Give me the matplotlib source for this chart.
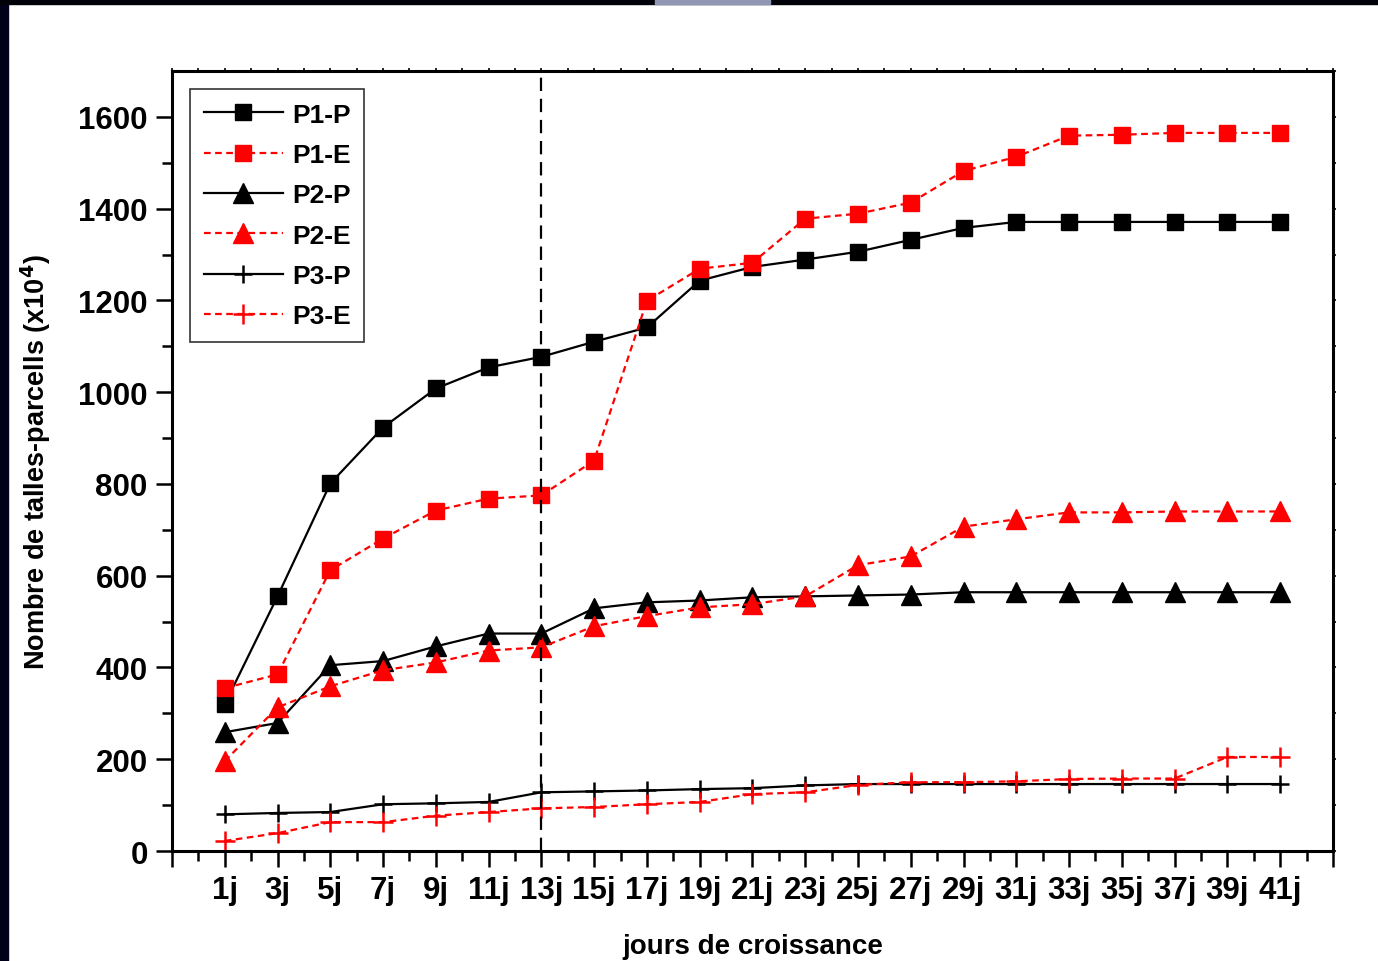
import numpy as np
import matplotlib
matplotlib.use("Agg")
import matplotlib.pyplot as plt
from matplotlib.patches import Rectangle

plt.rcParams['font.family'] = ['Liberation Sans', 'DejaVu Sans']
plt.rcParams['font.weight'] = 'bold'
plt.rcParams['axes.labelweight'] = 'bold'

# growth days (every 2 days)
days = ["1j", "3j", "5j", "7j", "9j", "11j", "13j", "15j", "17j", "19j", "21j",
        "23j", "25j", "27j", "29j", "31j", "33j", "35j", "37j", "39j", "41j"]

p1_p = [320, 555, 801, 923, 1008, 1054, 1077, 1110, 1141, 1243, 1273,
        1289, 1306, 1332, 1358, 1371, 1371, 1371, 1371, 1371, 1371]
p1_e = [355, 385, 612, 681, 742, 768, 775, 851, 1199, 1269, 1282,
        1378, 1389, 1413, 1482, 1513, 1559, 1561, 1565, 1565, 1565]
p2_p = [259, 279, 405, 414, 446, 474, 474, 529, 542, 546, 553,
        555, 557, 559, 564, 564, 564, 564, 564, 564, 564]
p2_e = [196, 313, 359, 394, 411, 437, 444, 490, 512, 531, 538,
        555, 623, 642, 707, 723, 738, 738, 740, 740, 740]
p3_p = [80, 83, 85, 102, 104, 107, 128, 130, 132, 135, 137,
        143, 146, 146, 146, 146, 146, 146, 146, 146, 146]
p3_e = [22, 39, 63, 63, 77, 85, 93, 96, 102, 107, 124,
        128, 144, 150, 150, 152, 157, 158, 158, 205, 205]

split_day = "13j"

x = np.arange(1, len(days) + 1)
n = len(days) + 1

fig = plt.figure(figsize=(13.78, 9.62), dpi=100)
ax = fig.add_axes([0.1248, 0.1143, 0.8425, 0.8109])

red = "#ff0000"
dash = (0, (3, 2))

ax.plot(x, p1_p, "-", color="black", lw=1.6, marker="s", ms=11.5, label="P1-P")
ax.plot(x, p1_e, linestyle=dash, color=red, lw=1.6, marker="s", ms=11.5, label="P1-E")
ax.plot(x, p2_p, "-", color="black", lw=1.6, marker="^", ms=15, label="P2-P")
ax.plot(x, p2_e, linestyle=dash, color=red, lw=1.6, marker="^", ms=15, label="P2-E")
ax.plot(x, p3_p, "-", color="black", lw=1.6, marker="+", ms=13, mew=1.8, label="P3-P")
ax.plot(x, p3_e, linestyle=dash, color=red, lw=1.6, marker="+", ms=15, mew=1.8, label="P3-E")

ax.axvline(days.index(split_day) + 1, color="black", lw=1.6, linestyle=(0, (6, 3.5)))

ax.set_xticks(np.arange(0, n + 1))
ax.set_xticklabels([""] + days + [""])
ax.set_xticks(np.arange(0, n) + 0.5, minor=True)
ax.set_yticks(np.arange(0, 1700, 200))
ax.set_yticks(np.arange(100, 1700, 200), minor=True)
ax.set_xlim(0, n)
ax.set_ylim(0, 1700)

for s in ax.spines.values():
    s.set_linewidth(2.2)

ax.tick_params(axis="both", which="major", direction="out", length=11.5, width=1.8,
               labelsize=22.5)
ax.tick_params(axis="both", which="minor", direction="out", length=7, width=1.8)
ax.tick_params(axis="x", which="major", pad=6)
ax.tick_params(axis="y", which="major", pad=6)

# tiny ticks on top and right
top = ax.secondary_xaxis("top")
top.set_xticks(np.arange(0, n + 0.1, 0.5))
top.tick_params(length=2, width=1.2)
top.set_xticklabels([])
right = ax.secondary_yaxis("right")
right.set_yticks(np.arange(0, 1701, 100))
right.tick_params(length=2, width=1.2)
right.set_yticklabels([])

ax.set_xlabel("jours de croissance", fontsize=20, fontweight="bold", labelpad=20)
ax.set_ylabel("Nombre de talles-parcells (x10$^\\mathbf{4}$)", fontsize=19.5,
              fontweight="bold", labelpad=18)

leg = ax.legend(loc="upper left", fontsize=19, frameon=True, fancybox=False,
                edgecolor="black", handlelength=3.0, labelspacing=0.62,
                borderaxespad=0.7, handletextpad=0.35, borderpad=0.5, numpoints=1)
leg.get_frame().set_linewidth(1.2)

# dark slide border visible around the figure
fig.patches.append(Rectangle((0, 0), 8 / 1378, 1, transform=fig.transFigure,
                             color="#00001a", zorder=0))
fig.patches.append(Rectangle((0, 1 - 5 / 962), 1, 5 / 962, transform=fig.transFigure,
                             color="#000008", zorder=0))
fig.patches.append(Rectangle((655 / 1378, 1 - 5 / 962), 115 / 1378, 5 / 962,
                             transform=fig.transFigure, color="#9097b5", zorder=1))

fig.savefig("out.png", dpi=100)
